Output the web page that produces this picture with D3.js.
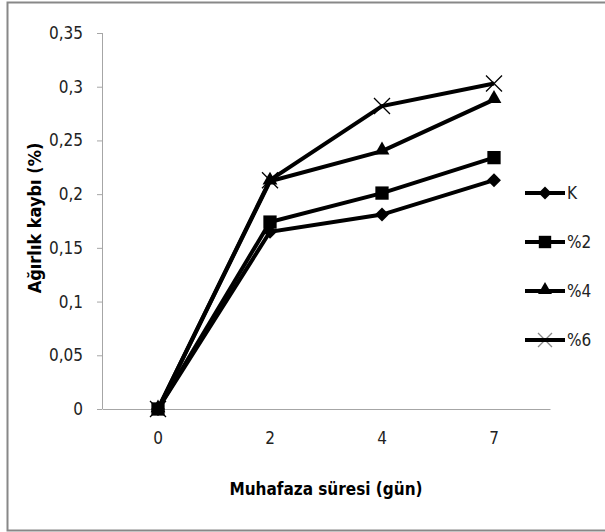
<!DOCTYPE html>
<html>
<head>
<meta charset="utf-8">
<script src="https://cdn.jsdelivr.net/npm/d3@7"></script>
<style>
  body { margin: 0; background: #fff; }
  text { font-family: "DejaVu Sans Condensed", "Liberation Sans Narrow", sans-serif; }
</style>
</head>
<body>
<div id="chart"></div>
<script>
const days = ['0', '2', '4', '7']
const yTicks = [0, 0.05, 0.1, 0.15, 0.2, 0.25, 0.3, 0.35]
const seriesNames = ['K', '%2', '%4', '%6']
const valK = [0, 0.165, 0.181, 0.213]
const val2 = [0, 0.174, 0.201, 0.234]
const val4 = [0, 0.212, 0.240, 0.288]
const val6 = [0, 0.213, 0.282, 0.303]
const markers = ['diamond', 'square', 'triangle', 'cross']

const series = [valK, val2, val4, val6].map((v, i) => ({
  name: seriesNames[i],
  marker: markers[i],
  values: v.map((y, j) => ({ day: days[j], y: y }))
}))

const W = 605, H = 532
let margin = { top: 33, right: 55, bottom: 123, left: 102 }

let svg = d3.select('#chart').append('svg')
  .attr('width', W)
  .attr('height', H)

// outer frame (right edge is cut off in the original)
svg.append('path')
  .attr('d', 'M610,2.5H7.5V530.5H610')
  .attr('fill', 'none')
  .attr('stroke', '#888')
  .attr('stroke-width', 2)

let x = d3.scaleBand().domain(days).range([margin.left, W - margin.right])
let y = d3.scaleLinear().domain([0, 0.35]).range([H - margin.bottom, margin.top])

let fmt = d => d3.format('~g')(d).replace('.', ',')

// y axis
let yAxis = svg.append('g')
  .attr('transform', 'translate(' + margin.left + ',0)')
  .call(d3.axisLeft(y).tickValues(yTicks).tickSize(5).tickPadding(14).tickFormat(fmt))
yAxis.select('.domain').attr('stroke', '#a6a6a6').attr('d', 'M0.5,' + y(0) + 'V' + y(0.35))
yAxis.selectAll('.tick line').attr('stroke', '#a6a6a6')
yAxis.selectAll('.tick text').attr('font-size', 17).attr('fill', '#222')
  .style('font-family', '"DejaVu Sans Condensed", sans-serif')

// x axis
let xAxis = svg.append('g')
  .attr('transform', 'translate(0,' + y(0) + ')')
  .call(d3.axisBottom(x).tickSize(0).tickPadding(23))
xAxis.select('.domain').attr('stroke', '#a6a6a6')
xAxis.selectAll('.tick text').attr('font-size', 17).attr('fill', '#222')
  .style('font-family', '"DejaVu Sans Condensed", sans-serif')

// axis titles
svg.append('text')
  .attr('x', (margin.left + W - margin.right) / 2)
  .attr('y', 495)
  .attr('text-anchor', 'middle')
  .attr('font-size', 17)
  .attr('font-weight', 'bold')
  .text('Muhafaza süresi (gün)')

svg.append('text')
  .attr('transform', 'translate(41,218) rotate(-90)')
  .attr('text-anchor', 'middle')
  .attr('font-size', 18)
  .attr('font-weight', 'bold')
  .text('Ağırlık kaybı (%)')

let cx = d => x(d.day) + x.bandwidth() / 2

let line = d3.line().x(cx).y(d => y(d.y))

function drawMarker(g, type, size, crossColor) {
  if (type === 'cross') {
    g.append('path')
      .attr('d', 'M' + (-size) + ',' + (-size) + 'L' + size + ',' + size + 'M' + (-size) + ',' + size + 'L' + size + ',' + (-size))
      .attr('stroke', crossColor || '#000')
      .attr('stroke-width', 1.3)
      .attr('fill', 'none')
  } else {
    let sym = { diamond: d3.symbolDiamond2, square: d3.symbolSquare2, triangle: d3.symbolTriangle2 }[type]
    let area = { diamond: size * size * 2.2, square: size * size * 4, triangle: size * size * 2.8 }[type]
    g.append('path')
      .attr('d', d3.symbol().type(sym).size(area)())
      .attr('transform', type === 'triangle' ? 'translate(0,-1)' : null)
      .attr('fill', '#000')
  }
}

series.forEach(s => {
  svg.append('path')
    .datum(s.values)
    .attr('d', line)
    .attr('fill', 'none')
    .attr('stroke', '#000')
    .attr('stroke-width', 4)

  s.values.forEach(d => {
    let g = svg.append('g').attr('transform', 'translate(' + cx(d) + ',' + y(d.y) + ')')
    drawMarker(g, s.marker, s.marker === 'cross' ? 8 : 7.5)
  })
})

// legend
let legend = svg.append('g')
series.forEach((s, i) => {
  let g = legend.append('g').attr('transform', 'translate(525,' + (193 + i * 49) + ')')
  g.append('line')
    .attr('x1', 0).attr('x2', 40)
    .attr('stroke', '#000')
    .attr('stroke-width', 4)
  let m = g.append('g').attr('transform', 'translate(20,0)')
  if (s.marker === 'cross') {
    drawMarker(m, 'cross', 7, '#888')
    g.select('line').raise()
  } else {
    drawMarker(m, s.marker, 7)
  }
  g.append('text')
    .attr('x', 42)
    .attr('y', 6)
    .attr('font-size', 17)
    .attr('fill', '#222')
    .text(s.name)
})
</script>
</body>
</html>
